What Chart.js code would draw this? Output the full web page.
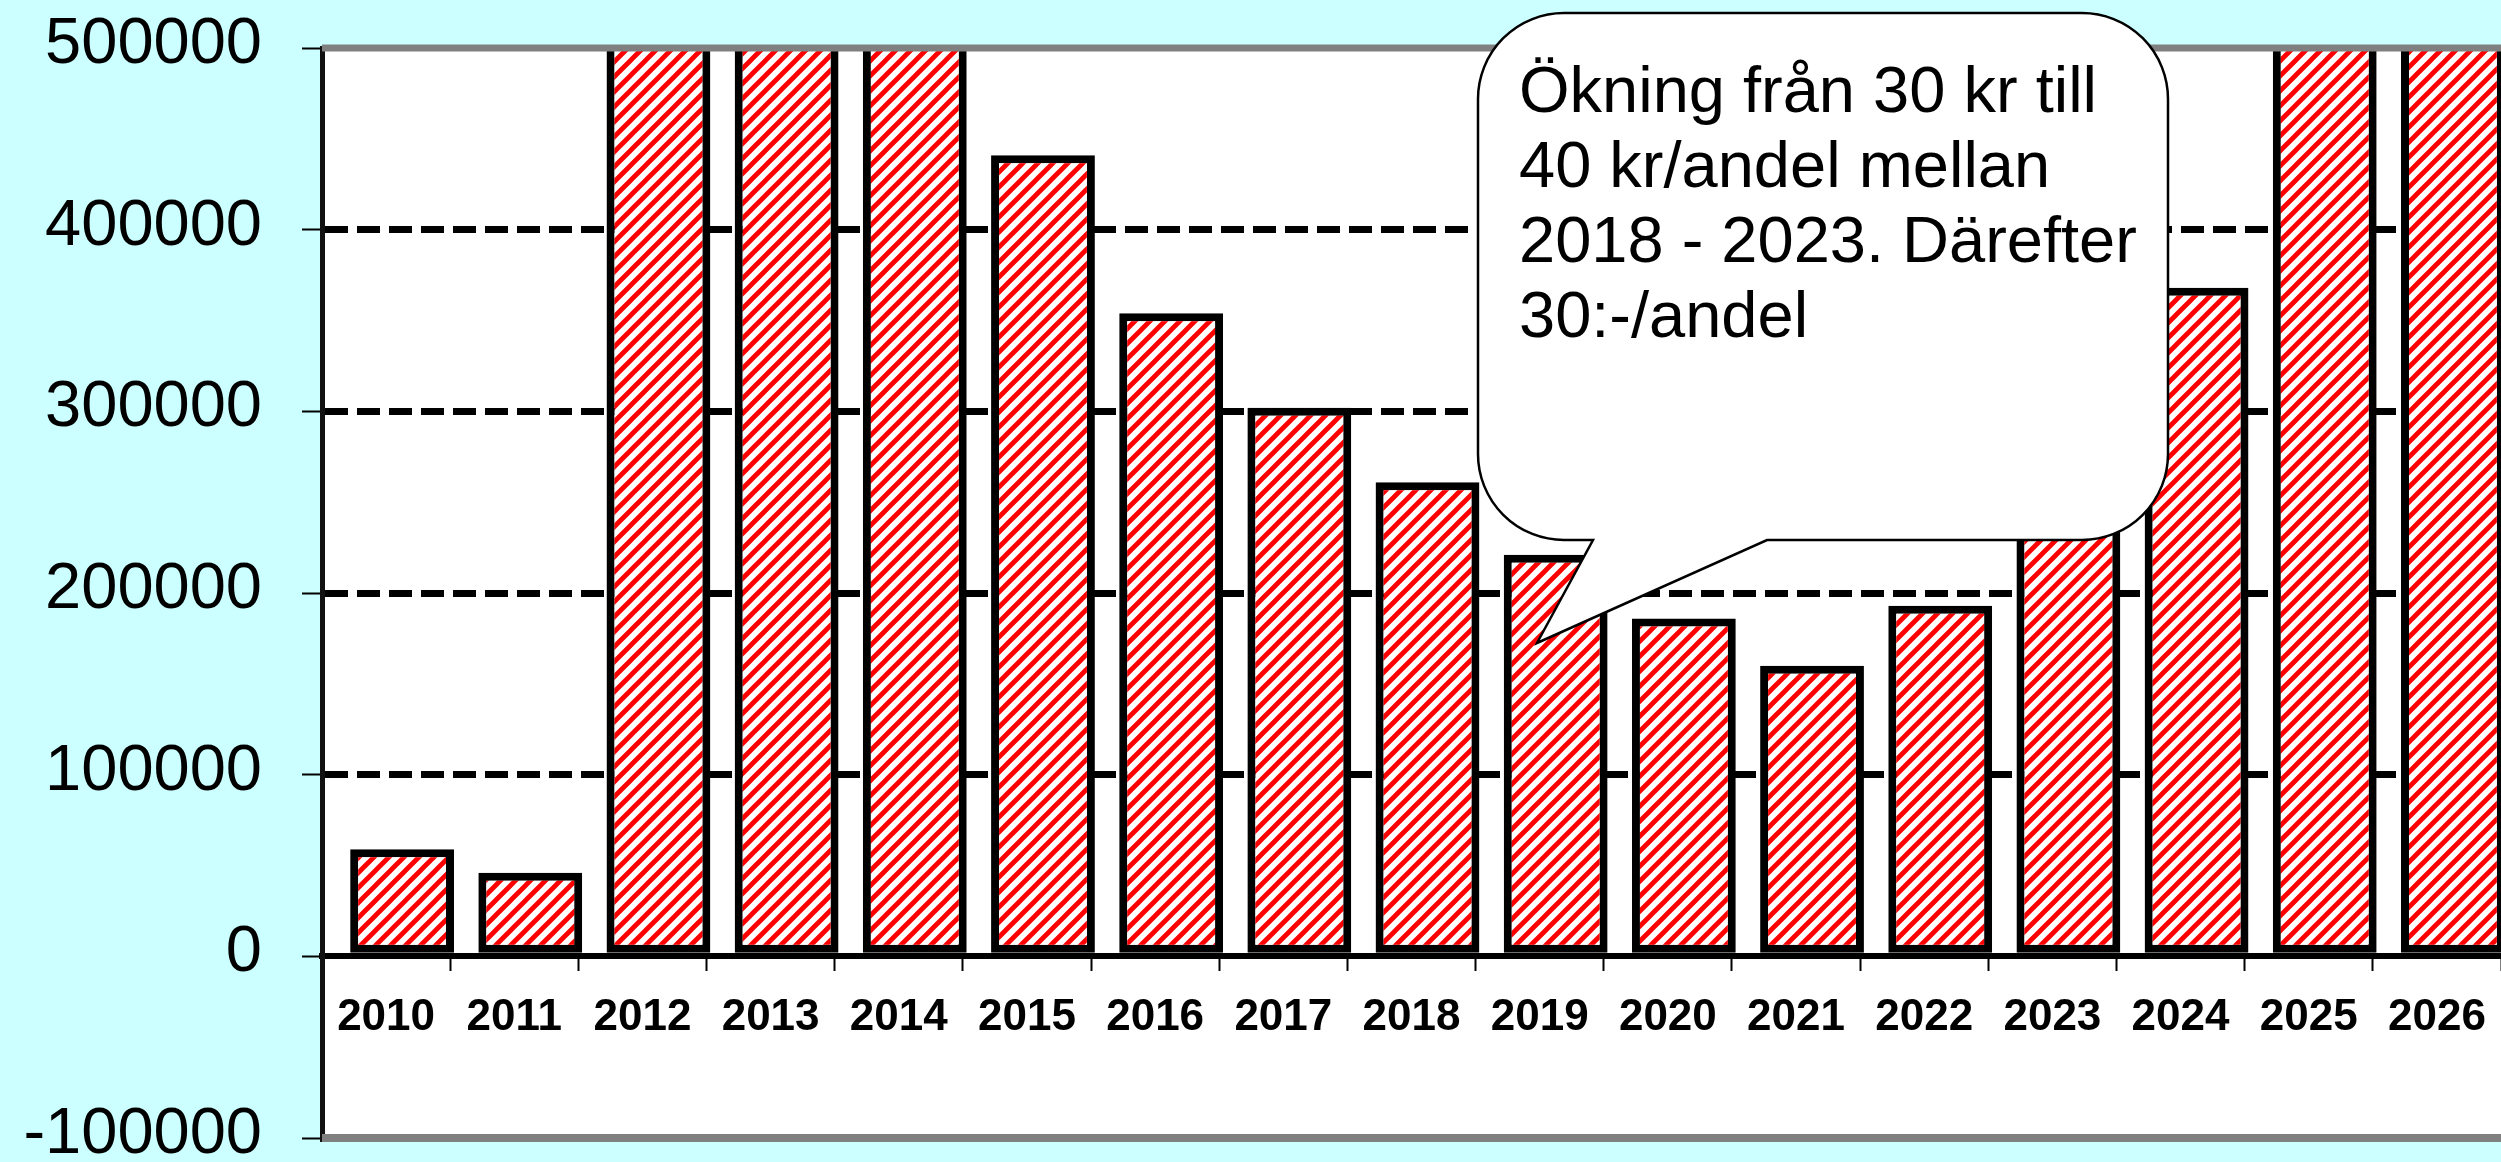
<!DOCTYPE html>
<html>
<head>
<meta charset="utf-8">
<script src="https://cdn.jsdelivr.net/npm/chart.js@4.4.1/dist/chart.umd.min.js"></script>
<style>
    html, body { margin: 0; padding: 0; background: #ccffff; overflow: hidden; }
    #wrap { width: 2501px; height: 1162px; }
</style>
</head>
<body>
<div id="wrap"><canvas id="chartCanvas"></canvas></div>
<script>
// data (bars above 500000 run off the top of the plot)
const years = ['2010', '2011', '2012', '2013', '2014', '2015', '2016', '2017', '2018',
    '2019', '2020', '2021', '2022', '2023', '2024', '2025', '2026'];
const amounts = [59000, 46000, 560000, 610000, 530000, 441000, 354000, 302000, 261000,
    221000, 186000, 160000, 193000, 270000, 368000, 580000, 650000];
const yTicks = [-100000, 0, 100000, 200000, 300000, 400000, 500000];
const noteLines = ['Ökning från 30 kr till', '40 kr/andel mellan', '2018 - 2023. Därefter', '30:-/andel'];

const FONT = '"Liberation Sans", Arial, sans-serif';

function makeHatch() {
    const s = 15;
    const c = document.createElement('canvas');
    c.width = s;
    c.height = s;
    const p = c.getContext('2d');
    p.fillStyle = '#ffffff';
    p.fillRect(0, 0, s, s);
    p.strokeStyle = '#ff0000';
    p.lineWidth = 4.8;
    p.beginPath();
    p.moveTo(0, s); p.lineTo(s, 0);
    p.moveTo(-s / 2, s / 2); p.lineTo(s / 2, -s / 2);
    p.moveTo(s / 2, s * 1.5); p.lineTo(s * 1.5, s / 2);
    p.stroke();
    return p.createPattern(c, 'repeat');
}

// white plot area, grey frame, bars nudged right like in the original
const plotFrame = {
    id: 'plotFrame',
    beforeDraw(chart) {
        const { ctx, chartArea: a } = chart;
        ctx.save();
        ctx.fillStyle = '#ffffff';
        ctx.fillRect(a.left, a.top, a.right - a.left, a.bottom - a.top);
        ctx.restore();
    },
    beforeDatasetsDraw(chart) {
        chart.ctx.save();
        chart.ctx.translate(16, 0);
    },
    afterDatasetsDraw(chart) {
        const { ctx, chartArea: a } = chart;
        ctx.restore();
        ctx.save();
        ctx.strokeStyle = '#808080';
        ctx.lineWidth = 7;
        ctx.beginPath(); ctx.moveTo(a.left, a.top); ctx.lineTo(a.right, a.top); ctx.stroke();
        ctx.lineWidth = 8;
        ctx.beginPath(); ctx.moveTo(a.left, a.bottom); ctx.lineTo(a.right, a.bottom); ctx.stroke();
        ctx.restore();
    }
};

// speech bubble with the note
const callout = {
    id: 'callout',
    afterDraw(chart) {
        const ctx = chart.ctx;
        const l = 1478, t = 13, r = 2168, b = 540, rad = 86;
        ctx.save();
        ctx.beginPath();
        ctx.moveTo(l + rad, t);
        ctx.lineTo(r - rad, t);
        ctx.arcTo(r, t, r, t + rad, rad);
        ctx.lineTo(r, b - rad);
        ctx.arcTo(r, b, r - rad, b, rad);
        ctx.lineTo(1767, b);
        ctx.lineTo(1537, 643);
        ctx.lineTo(1593, b);
        ctx.lineTo(l + rad, b);
        ctx.arcTo(l, b, l, b - rad, rad);
        ctx.lineTo(l, t + rad);
        ctx.arcTo(l, t, l + rad, t, rad);
        ctx.closePath();
        ctx.fillStyle = '#ffffff';
        ctx.fill();
        ctx.strokeStyle = '#000000';
        ctx.lineWidth = 2.5;
        ctx.stroke();
        ctx.fillStyle = '#000000';
        ctx.font = '65px ' + FONT;
        ctx.textAlign = 'left';
        ctx.textBaseline = 'alphabetic';
        noteLines.forEach((line, i) => ctx.fillText(line, 1519, 112 + i * 75));
        ctx.restore();
    }
};

const ctx = document.getElementById('chartCanvas').getContext('2d');
new Chart(ctx, {
    type: 'bar',
    data: {
        labels: years,
        datasets: [{
            data: amounts,
            backgroundColor: makeHatch(),
            borderColor: '#000000',
            borderWidth: 8,
            borderSkipped: false,
            categoryPercentage: 1,
            barPercentage: 0.81,
            clip: 0
        }]
    },
    options: {
        responsive: true,
        maintainAspectRatio: false,
        animation: false,
        events: [],
        layout: {
            autoPadding: false,
            padding: { top: 48, right: 0, bottom: 24, left: 0 }
        },
        plugins: {
            legend: { display: false },
            tooltip: { enabled: false }
        },
        scales: {
            x: {
                position: { y: 0 },
                afterFit: scale => {
                    scale.height = 0;
                    scale.paddingLeft = 0;
                    scale.paddingRight = 0;
                    scale.paddingTop = 0;
                    scale.paddingBottom = 0;
                },
                grid: {
                    drawOnChartArea: false,
                    drawTicks: true,
                    tickLength: 12,
                    tickColor: '#000000',
                    tickWidth: 2
                },
                border: { display: true, color: '#000000', width: 6 },
                ticks: {
                    color: '#000000',
                    padding: 23,
                    maxRotation: 0,
                    autoSkip: false,
                    font: { family: FONT, size: 44, weight: 'bold' }
                }
            },
            y: {
                min: -100000,
                max: 500000,
                afterBuildTicks: scale => { scale.ticks = yTicks.map(v => ({ value: v })); },
                afterFit: scale => {
                    scale.width = 322;
                    scale.paddingTop = 0;
                    scale.paddingBottom = 0;
                    scale.paddingLeft = 0;
                    scale.paddingRight = 0;
                },
                grid: {
                    color: c => (c.tick && c.tick.value > 0 && c.tick.value < 500000) ? '#000000' : 'rgba(0,0,0,0)',
                    lineWidth: 7,
                    tickLength: 20,
                    tickColor: '#000000',
                    tickWidth: 2
                },
                border: { display: true, color: '#111111', width: 5, dash: [23, 9] },
                ticks: {
                    color: '#000000',
                    padding: 40,
                    labelOffset: -3,
                    font: { family: FONT, size: 65 },
                    callback: v => String(v)
                }
            }
        }
    },
    plugins: [plotFrame, callout]
});
</script>
</body>
</html>
